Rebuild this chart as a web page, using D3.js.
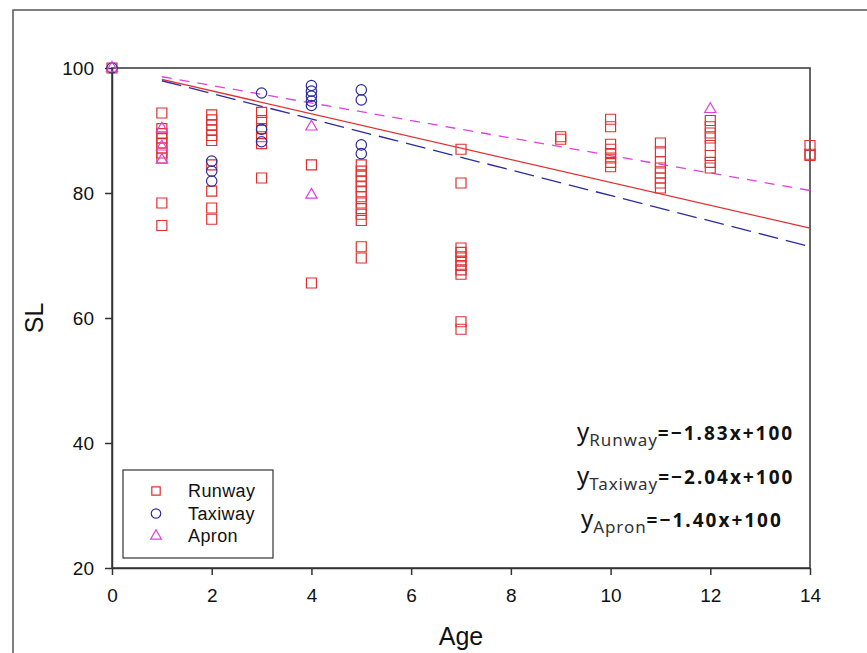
<!DOCTYPE html>
<html>
<head>
<meta charset="utf-8">
<script src="https://cdn.jsdelivr.net/npm/d3@7"></script>
<style>
  body { margin: 0; background: #fff; }
  text { font-family: "Liberation Sans", Arial, sans-serif; }
</style>
</head>
<body>
<script>
var width = 867;
var height = 653;

// data: [age, SL]
var runway = [
    [0, 100],
    [1, 92.8], [1, 90.3], [1, 89.5], [1, 88.8], [1, 88.0], [1, 87.2], [1, 86.4], [1, 85.6], [1, 78.4], [1, 74.8],
    [2, 92.5], [2, 91.7], [2, 90.9], [2, 90.1], [2, 89.2], [2, 88.4], [2, 84.5], [2, 80.3], [2, 77.6], [2, 75.8],
    [3, 92.9], [3, 91.6], [3, 90.3], [3, 89.0], [3, 87.9], [3, 82.4],
    [4, 84.5], [4, 65.6],
    [5, 84.5], [5, 83.5], [5, 82.7], [5, 81.9], [5, 81.0], [5, 80.2], [5, 79.4],
    [5, 78.4], [5, 77.5], [5, 76.6], [5, 75.6], [5, 71.4], [5, 69.6],
    [7, 87.0], [7, 81.6], [7, 71.2], [7, 70.5], [7, 69.8], [7, 69.1], [7, 68.4], [7, 67.7], [7, 67.0], [7, 59.4], [7, 58.2],
    [9, 89.0], [9, 88.6],
    [10, 91.8], [10, 90.6], [10, 87.8], [10, 87.0], [10, 86.3], [10, 85.6], [10, 84.9], [10, 84.2],
    [11, 88.0], [11, 86.6], [11, 85.0], [11, 84.0], [11, 83.2], [11, 82.4], [11, 81.6], [11, 80.8],
    [12, 91.6], [12, 90.6], [12, 89.6], [12, 88.8], [12, 87.6], [12, 86.0], [12, 84.9], [12, 84.0],
    [14, 87.6], [14, 86.2], [14, 86.0]
];
var taxiway = [
    [0, 100],
    [2, 85.1], [2, 83.5], [2, 81.9],
    [3, 96.0], [3, 90.2], [3, 88.2],
    [4, 97.2], [4, 96.3], [4, 95.5], [4, 94.7], [4, 94.0],
    [5, 96.5], [5, 94.9], [5, 87.7], [5, 86.3]
];
var apron = [
    [0, 100],
    [1, 90.3], [1, 87.4], [1, 85.3],
    [4, 90.6], [4, 79.7],
    [12, 93.4]
];

// fitted lines y = slope * x + 100, drawn from x = 1 to 14
var slopes = { Runway: -1.83, Taxiway: -2.04, Apron: -1.40 };
var fitRange = [1, 14];

var xTicks = [0, 2, 4, 6, 8, 10, 12, 14];
var yTicks = [20, 40, 60, 80, 100];

var colors = { Runway: "#e03030", Taxiway: "#2c2c9c", Apron: "#e040e0" };

var plotLeft = 112, plotRight = 810, plotTop = 68, plotBottom = 568;

var svg = d3.select("body").append("svg")
    .attr("width", width)
    .attr("height", height);

// outer frame of the picture
svg.append("path")
    .attr("d", "M13," + height + " V10 H" + width)
    .attr("fill", "none")
    .attr("stroke", "#555")
    .attr("stroke-width", 1.5);

var x = d3.scaleLinear().domain([0, 14]).range([plotLeft, plotRight]);
var y = d3.scaleLinear().domain([20, 100]).range([plotBottom, plotTop]);

// plot box
svg.append("rect")
    .attr("x", plotLeft).attr("y", plotTop)
    .attr("width", plotRight - plotLeft).attr("height", plotBottom - plotTop)
    .attr("fill", "none")
    .attr("stroke", "#333")
    .attr("stroke-width", 1.5);

var xAxis = svg.append("g")
    .attr("transform", "translate(0," + plotBottom + ")")
    .call(d3.axisBottom(x).tickValues(xTicks).tickSize(7).tickPadding(14).tickSizeOuter(0));
var yAxis = svg.append("g")
    .attr("transform", "translate(" + plotLeft + ",0)")
    .call(d3.axisLeft(y).tickValues(yTicks).tickSize(7).tickPadding(11).tickSizeOuter(0));

[xAxis, yAxis].forEach(function(ax) {
    ax.select(".domain").attr("stroke", "#333").attr("stroke-width", 1.5);
    ax.selectAll(".tick line").attr("stroke", "#333").attr("stroke-width", 1.5);
    ax.selectAll(".tick text")
        .attr("fill", "#111")
        .style("font-family", "'Liberation Sans', Arial, sans-serif")
        .style("font-size", "19px");
});

svg.append("text")
    .attr("x", (plotLeft + plotRight) / 2)
    .attr("y", 645)
    .attr("text-anchor", "middle")
    .style("font-size", "25px")
    .attr("fill", "#111")
    .text("Age");

svg.append("text")
    .attr("transform", "translate(43," + ((plotTop + plotBottom) / 2) + ") rotate(-90)")
    .attr("text-anchor", "middle")
    .style("font-size", "25px")
    .attr("fill", "#111")
    .text("SL");

// fitted lines
var dashes = { Runway: null, Taxiway: "20,8", Apron: "10,8" };
Object.keys(slopes).forEach(function(k) {
    var pts = fitRange.map(function(a) { return [a, slopes[k] * a + 100]; });
    svg.append("path")
        .datum(pts)
        .attr("d", d3.line().x(function(d) { return x(d[0]); }).y(function(d) { return y(d[1]); }))
        .attr("fill", "none")
        .attr("stroke", colors[k])
        .attr("stroke-width", 1.3)
        .attr("stroke-dasharray", dashes[k]);
});

var shapeTypes = { Runway: d3.symbolSquare, Taxiway: d3.symbolCircle, Apron: d3.symbolTriangle };
var shapeSizes = { Runway: 100, Taxiway: 85, Apron: 55 };

function drawPoints(data, key) {
    svg.append("g").selectAll("path")
        .data(data)
        .join("path")
        .attr("transform", function(d) { return "translate(" + x(d[0]) + "," + y(d[1]) + ")"; })
        .attr("d", d3.symbol().type(shapeTypes[key]).size(shapeSizes[key]))
        .attr("fill", "none")
        .attr("stroke", colors[key])
        .attr("stroke-width", 1.2);
}
drawPoints(runway, "Runway");
drawPoints(taxiway, "Taxiway");
drawPoints(apron, "Apron");

// legend
var legend = svg.append("g");
legend.append("rect")
    .attr("x", 123).attr("y", 470)
    .attr("width", 150).attr("height", 88)
    .attr("fill", "#fff")
    .attr("stroke", "#333")
    .attr("stroke-width", 1.2);
["Runway", "Taxiway", "Apron"].forEach(function(k, i) {
    var ly = 491 + i * 22.5;
    legend.append("path")
        .attr("transform", "translate(156," + ly + ")")
        .attr("d", d3.symbol().type(shapeTypes[k]).size(k === "Apron" ? 50 : 70)())
        .attr("fill", "none")
        .attr("stroke", colors[k])
        .attr("stroke-width", 1.2);
    legend.append("text")
        .attr("x", 188).attr("y", ly + 6)
        .style("font-size", "18px")
        .style("letter-spacing", "0.4px")
        .attr("fill", "#111")
        .text(k);
});

// equations
var eqs = [
    { name: "Runway", text: "=\u22121.83x+100", x: 577, y: 440 },
    { name: "Taxiway", text: "=\u22122.04x+100", x: 577, y: 484 },
    { name: "Apron", text: "=\u22121.40x+100", x: 581, y: 527 }
];
eqs.forEach(function(e) {
    var t = svg.append("text")
        .attr("x", e.x).attr("y", e.y)
        .style("font-family", "'Noto Sans', 'Open Sans', sans-serif")
        .attr("fill", "#111");
    t.append("tspan").style("font-size", "24px").text("y");
    t.append("tspan").attr("dy", 6).style("font-size", "17px")
        .style("letter-spacing", "0.9px").attr("fill", "#333").text(e.name);
    t.append("tspan").attr("dy", -6).style("font-size", "19px")
        .style("font-weight", "bold").style("letter-spacing", "2px").text(e.text);
});
</script>
</body>
</html>
